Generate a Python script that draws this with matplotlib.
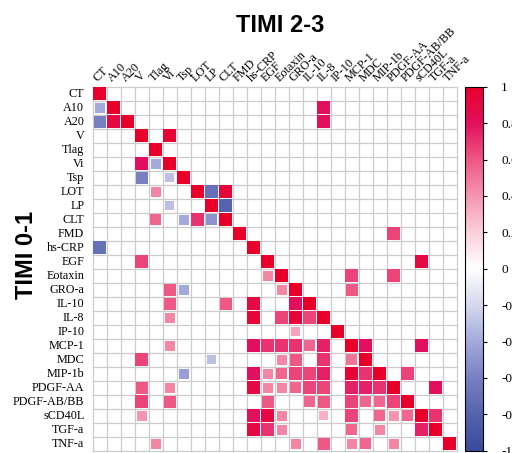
import matplotlib
matplotlib.use("Agg")
import matplotlib.pyplot as plt
from matplotlib.colors import LinearSegmentedColormap, Normalize
from matplotlib.patches import Rectangle
import matplotlib.cm as cm
import numpy as np

variables = ["CT", "A10", "A20", "V", "Tlag", "Vi", "Tsp", "LOT", "LP", "CLT",
             "FMD", "hs-CRP", "EGF", "Eotaxin", "GRO-a", "IL-10", "IL-8", "IP-10",
             "MCP-1", "MDC", "MIP-1b", "PDGF-AA", "PDGF-AB/BB", "sCD40L", "TGF-a", "TNF-a"]

# significant correlations, TIMI 0-1 group (lower triangle)
timi01 = [
    ("A10", "CT", -0.4), ("A20", "CT", -0.6), ("A20", "A10", 0.9),
    ("Vi", "V", 0.8), ("Vi", "Tlag", -0.4), ("Tsp", "V", -0.6), ("Tsp", "Vi", -0.3),
    ("LOT", "Tlag", 0.45), ("LP", "Vi", -0.3),
    ("CLT", "Tlag", 0.55), ("CLT", "Tsp", -0.4), ("CLT", "LOT", 0.7), ("CLT", "LP", -0.5),
    ("hs-CRP", "CT", -0.7), ("EGF", "V", 0.65), ("Eotaxin", "EGF", 0.45),
    ("GRO-a", "Vi", 0.6), ("GRO-a", "Tsp", -0.4), ("GRO-a", "Eotaxin", 0.45),
    ("IL-10", "Vi", 0.6), ("IL-10", "CLT", 0.6), ("IL-10", "hs-CRP", 0.9), ("IL-10", "GRO-a", 0.8),
    ("IL-8", "Vi", 0.45), ("IL-8", "hs-CRP", 0.95), ("IL-8", "Eotaxin", 0.65),
    ("IL-8", "GRO-a", 0.95), ("IL-8", "IL-10", 0.65),
    ("IP-10", "GRO-a", 0.35),
    ("MCP-1", "Vi", 0.45), ("MCP-1", "hs-CRP", 0.8), ("MCP-1", "EGF", 0.7),
    ("MCP-1", "Eotaxin", 0.7), ("MCP-1", "GRO-a", 0.7), ("MCP-1", "IL-10", 0.55),
    ("MCP-1", "IL-8", 0.75),
    ("MDC", "V", 0.65), ("MDC", "LP", -0.3), ("MDC", "Eotaxin", 0.45), ("MDC", "GRO-a", 0.6),
    ("MDC", "IL-8", 0.7), ("MDC", "MCP-1", 0.5),
    ("MIP-1b", "Tsp", -0.45), ("MIP-1b", "hs-CRP", 0.8), ("MIP-1b", "EGF", 0.45),
    ("MIP-1b", "Eotaxin", 0.55), ("MIP-1b", "GRO-a", 0.65), ("MIP-1b", "IL-10", 0.65),
    ("MIP-1b", "IL-8", 0.75), ("MIP-1b", "MCP-1", 0.95), ("MIP-1b", "MDC", 0.7),
    ("PDGF-AA", "V", 0.6), ("PDGF-AA", "Vi", 0.45), ("PDGF-AA", "hs-CRP", 0.9),
    ("PDGF-AA", "EGF", 0.45), ("PDGF-AA", "Eotaxin", 0.45), ("PDGF-AA", "GRO-a", 0.55),
    ("PDGF-AA", "IL-10", 0.65), ("PDGF-AA", "IL-8", 0.65), ("PDGF-AA", "MCP-1", 0.75),
    ("PDGF-AA", "MDC", 0.75), ("PDGF-AA", "MIP-1b", 0.7),
    ("PDGF-AB/BB", "V", 0.65), ("PDGF-AB/BB", "Vi", 0.6), ("PDGF-AB/BB", "EGF", 0.6),
    ("PDGF-AB/BB", "IL-10", 0.55), ("PDGF-AB/BB", "IL-8", 0.6), ("PDGF-AB/BB", "MCP-1", 0.65),
    ("PDGF-AB/BB", "MDC", 0.55), ("PDGF-AB/BB", "MIP-1b", 0.55), ("PDGF-AB/BB", "PDGF-AA", 0.65),
    ("sCD40L", "V", 0.4), ("sCD40L", "hs-CRP", 0.8), ("sCD40L", "EGF", 0.9),
    ("sCD40L", "Eotaxin", 0.45), ("sCD40L", "IL-8", 0.3), ("sCD40L", "MCP-1", 0.65),
    ("sCD40L", "MIP-1b", 0.55), ("sCD40L", "PDGF-AA", 0.4), ("sCD40L", "PDGF-AB/BB", 0.55),
    ("TGF-a", "hs-CRP", 0.9), ("TGF-a", "EGF", 0.7), ("TGF-a", "Eotaxin", 0.45),
    ("TGF-a", "MCP-1", 0.55), ("TGF-a", "MIP-1b", 0.45), ("TGF-a", "sCD40L", 0.75),
    ("TNF-a", "Tlag", 0.45), ("TNF-a", "GRO-a", 0.45), ("TNF-a", "IL-8", 0.6),
    ("TNF-a", "MCP-1", 0.45), ("TNF-a", "MDC", 0.55), ("TNF-a", "PDGF-AA", 0.45),
]

# significant correlations, TIMI 2-3 group (upper triangle)
timi23 = [
    ("A10", "IL-8", 0.8), ("A20", "IL-8", 0.8), ("V", "Vi", 0.95),
    ("LOT", "LP", -0.7), ("LOT", "CLT", 0.95), ("LP", "CLT", -0.8),
    ("FMD", "PDGF-AA", 0.65), ("EGF", "sCD40L", 0.9),
    ("Eotaxin", "MCP-1", 0.65), ("Eotaxin", "PDGF-AA", 0.65), ("GRO-a", "MCP-1", 0.6),
    ("MCP-1", "MDC", 0.8), ("MCP-1", "sCD40L", 0.8), ("MIP-1b", "PDGF-AB/BB", 0.65),
    ("PDGF-AA", "TGF-a", 0.8), ("sCD40L", "TGF-a", 0.7),
]

cbar_ticks = [1, 0.8, 0.6, 0.4, 0.2, 0, -0.2, -0.4, -0.6, -0.8, -1]

n = len(variables)
idx = {v: i for i, v in enumerate(variables)}
mat = np.full((n, n), np.nan)
np.fill_diagonal(mat, 1.0)
for r, c, v in timi01 + timi23:
    mat[idx[r], idx[c]] = v

cmap = LinearSegmentedColormap.from_list("bwr_corr", [
    (0.0, "#3A4A9E"), (0.1, "#5663AE"), (0.2, "#7880C2"), (0.3, "#A4AADA"),
    (0.4, "#D5D8EE"), (0.5, "#FFFFFF"), (0.6, "#FAD0DC"), (0.7, "#F595B0"),
    (0.8, "#EE5884"), (0.9, "#E2105D"), (1.0, "#E8002A")])
norm = Normalize(-1, 1)

W, H = 512, 453
fig = plt.figure(figsize=(W / 100, H / 100), dpi=100)
ax = fig.add_axes([92.7 / W, 2.3 / H, 364 / W, 364 / H])
ax.set_xlim(0, n)
ax.set_ylim(n, 0)
ax.axis("off")

# grid
for k in range(n + 1):
    ax.plot([k, k], [0, n], color="#CCCCCC", lw=0.9, zorder=1, clip_on=False)
    ax.plot([0, n], [k, k], color="#CCCCCC", lw=0.9, zorder=1, clip_on=False)

# squares sized by |r|
for i in range(n):
    for j in range(n):
        v = mat[i, j]
        if np.isnan(v):
            continue
        s = min(0.95, 1.1 * np.sqrt(abs(v)))
        ax.add_patch(Rectangle((j + 0.5 - s / 2, i + 0.5 - s / 2), s, s,
                               facecolor=cmap(norm(v)), edgecolor="none", zorder=2))

serif = "Liberation Serif"
for k, name in enumerate(variables):
    ax.text(-0.6, k + 0.5, name, ha="right", va="center", fontsize=8.7, family=serif)
    ax.text(k + 0.5, -0.2, name, ha="left", va="bottom", rotation=45,
            rotation_mode="anchor", fontsize=8.7, family=serif)

fig.text(280.5 / W, 1 - 26 / H, "TIMI 2-3", ha="center", va="center",
         fontsize=17, fontweight="bold", family="Liberation Sans")
fig.text(26.5 / W, 1 - 255 / H, "TIMI 0-1", ha="center", va="center", rotation=90,
         fontsize=17, fontweight="bold", family="Liberation Sans")

# colour legend
cax = fig.add_axes([465 / W, 2.3 / H, 18 / W, 364 / H])
cb = fig.colorbar(cm.ScalarMappable(norm=norm, cmap=cmap), cax=cax, ticks=cbar_ticks)
cb.outline.set_linewidth(0.8)
cax.tick_params(length=3, width=0.8, pad=10, labelsize=9.5)
cax.set_yticklabels([f"{t:g}" for t in cbar_ticks], family=serif)

fig.savefig("out.png", dpi=100)
